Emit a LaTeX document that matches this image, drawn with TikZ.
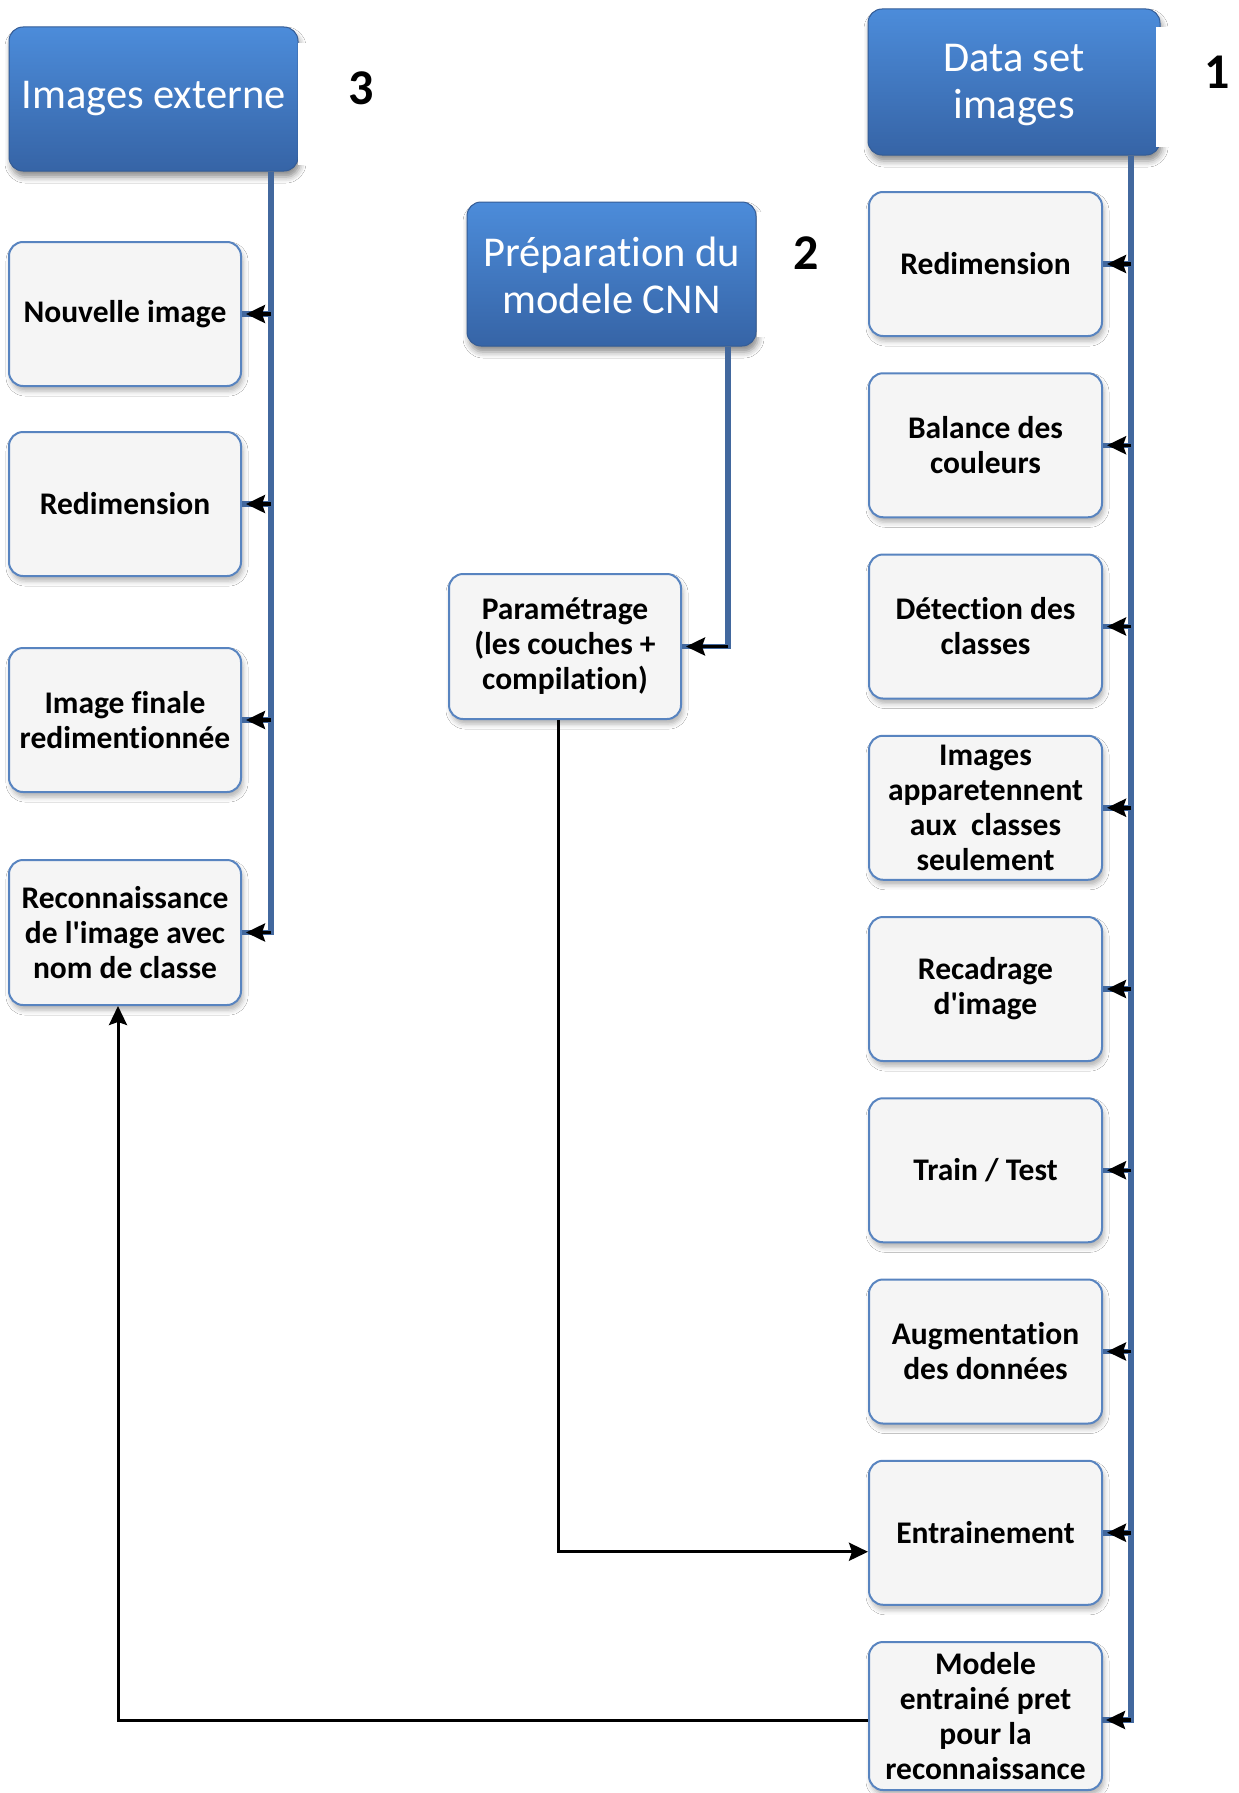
\documentclass[tikz,border=0pt]{standalone}
\usepackage{fontspec}
\setmainfont{Carlito}[Ligatures={TeXOff,NoCommon}]
\usetikzlibrary{arrows.meta,shadows.blur}

\definecolor{linkblue}{RGB}{66,104,158}
\definecolor{boxedge}{RGB}{88,132,192}
\definecolor{boxfill}{RGB}{245,245,245}
\definecolor{hdrtop}{RGB}{76,140,218}
\definecolor{hdrbot}{RGB}{54,100,166}
\definecolor{hdredge}{RGB}{52,92,150}

\tikzset{
  stepbox/.style={draw=boxedge, line width=2pt, fill=boxfill,
    rounded corners=14pt, minimum width=232pt, minimum height=144pt,
    align=center, inner sep=2pt,
    font=\bfseries\fontsize{31.5}{35}\selectfont,
    blur shadow={shadow xshift=2pt, shadow yshift=-5pt,
      shadow blur radius=5pt, shadow opacity=30}},
  hdrbox/.style={draw=hdredge, line width=1pt, top color=hdrtop,
    bottom color=hdrbot, rounded corners=14pt,
    minimum width=289pt, minimum height=144pt,
    align=center, inner sep=2pt, text=white,
    font=\fontsize{42.5}{47}\selectfont,
    blur shadow={shadow xshift=2pt, shadow yshift=-6pt,
      shadow blur radius=6pt, shadow opacity=45}},
  numlabel/.style={font=\bfseries\fontsize{50}{50}\selectfont, inner sep=0pt},
  feed/.style={draw=linkblue, line width=5.5pt},
  tip/.style={draw=black, line width=3.5pt, shorten >=4pt,
    -{Stealth[length=19pt,width=18pt,inset=3pt]}},
  flow/.style={draw=black, line width=3pt,
    -{Stealth[length=19pt,width=18pt,inset=3pt]}},
}
% a little extra room above the first header line
\newcommand{\hdrstrut}{\rule{0pt}{33pt}}

\begin{document}
\begin{tikzpicture}[x=1pt,y=-1pt]
\useasboundingbox[fill=white] (0,0) rectangle (1239,1793);

% headers
\node[hdrbox] (hdrE) at (153.5,99) {Images externe};
\node[hdrbox] (hdrP) at (611.5,274) {\hdrstrut Préparation du\\modele CNN};
\node[hdrbox, minimum width=292pt, minimum height=146pt] (hdrD) at (1014,82) {\hdrstrut Data set\\images};

% white label panels beside the headers
\fill[white] (298,43) rectangle (420,165);
\fill[white] (757,212) rectangle (860,337);
\fill[white] (1156,27) rectangle (1239,147);

\node[numlabel] (n3) at (361,88) {3};
\node[numlabel] (n2) at (806,253) {2};
\node[numlabel] (n1) at (1217,72) {1};

% left column: recognition of an external image
\node[stepbox] (l1) at (125,314) {Nouvelle image};
\node[stepbox] (l2) at (125,504) {Redimension};
\node[stepbox] (l3) at (125,720) {Image finale\\redimentionnée};
\node[stepbox, minimum height=145pt] (l4) at (125,932.5) {Reconnaissance\\de l'image avec\\nom de classe};

% middle: model setup
\node[stepbox, minimum height=145pt] (pm) at (565,646.5) {Paramétrage\\(les couches +\\compilation)};

% right column: dataset pipeline
\node[stepbox, minimum width=233pt] (r1) at (985.5,264) {Redimension};
\node[stepbox, minimum width=233pt] (r2) at (985.5,445.25) {Balance des\\couleurs};
\node[stepbox, minimum width=233pt] (r3) at (985.5,626.5) {Détection des\\classes};
\node[stepbox, minimum width=233pt] (r4) at (985.5,807.75) {Images\\apparetennent\\aux~ classes\\seulement};
\node[stepbox, minimum width=233pt] (r5) at (985.5,989) {Recadrage\\d'image};
\node[stepbox, minimum width=233pt] (r6) at (985.5,1170.25) {Train / Test};
\node[stepbox, minimum width=233pt] (r7) at (985.5,1351.5) {Augmentation\\des données};
\node[stepbox, minimum width=233pt] (r8) at (985.5,1532.75) {Entrainement};
\node[stepbox, minimum width=233pt, minimum height=148pt] (r9) at (985.5,1716) {Modele\\entrainé pret\\pour la\\reconnaissance};

% bus lines
\coordinate (busL) at (271,0);
\coordinate (busP) at (728,0);
\coordinate (busR) at (1131,0);
\coordinate (r9in) at (1102,1720);

\draw[feed] (hdrE.south -| busL) |- (l4.east);
\foreach \b in {l1,l2,l3} \draw[feed] (\b.east -| busL) -- (\b.east);
\foreach \b in {l1,l2,l3,l4} \draw[tip] (\b.east -| busL) -- (\b.east);

\draw[feed] (hdrP.south -| busP) |- (pm.east);
\draw[tip] (pm.east -| busP) -- (pm.east);

\draw[feed] (hdrD.south -| busR) |- (r9in);
\foreach \b in {r1,r2,r3,r4,r5,r6,r7,r8} \draw[feed] (\b.east -| busR) -- (\b.east);
\foreach \b in {r1,r2,r3,r4,r5,r6,r7,r8} \draw[tip] (\b.east -| busR) -- (\b.east);
\draw[tip] (r9in -| busR) -- (r9in);

% model to training, trained model to recognition
\draw[flow] ([xshift=-7pt]pm.south) |- ([yshift=-19pt]r8.west);
\draw[flow] ([yshift=-4pt]r9.west) -| ([xshift=-7pt]l4.south);
\end{tikzpicture}
\end{document}
